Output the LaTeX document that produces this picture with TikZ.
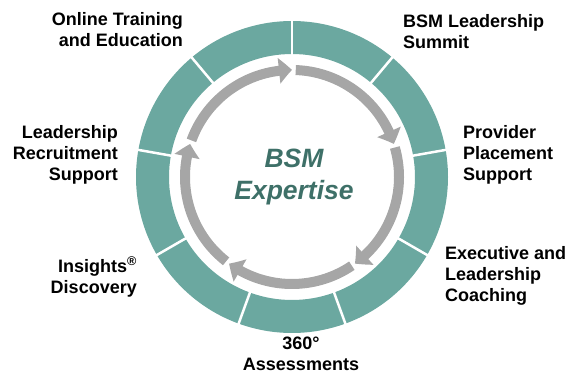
\documentclass[tikz,border=0pt]{standalone}
\usepackage{fontspec}
\setmainfont{Liberation Sans}
\usetikzlibrary{arrows.meta,bending}

\definecolor{ringteal}{RGB}{107,168,160}
\definecolor{flowgray}{RGB}{166,166,166}
\definecolor{coreteal}{RGB}{62,112,104}

\begin{document}
\begin{tikzpicture}[
    x=1pt, y=1pt,
    seg/.style={fill=ringteal},
    gap/.style={draw=white, line width=2.5pt},
    flow/.style={
        draw=flowgray, line width=10pt,
        -{Triangle[width=25pt,length=13pt,bend]}
    },
    lbl/.style={
        font=\bfseries\fontsize{18}{21}\selectfont,
        inner sep=0pt
    },
    core/.style={
        font=\bfseries\itshape\fontsize{26.5}{32}\selectfont,
        text=coreteal, align=center, inner sep=0pt
    }
]
\useasboundingbox (0,0) rectangle (571,375);

% --- Ring (nine segments) and cycle arrows ---
\begin{scope}[shift={(292,198)}]
    \foreach \k in {0,...,8} {
        \pgfmathsetmacro\sa{90-40*\k}
        \pgfmathsetmacro\ea{50-40*\k}
        \fill[seg] (\sa:156) arc[start angle=\sa, end angle=\ea, radius=156]
            -- (\ea:123) arc[start angle=\ea, end angle=\sa, radius=123] -- cycle;
    }
    \foreach \k in {0,...,8} {
        \draw[gap] ({90-40*\k}:120) -- ({90-40*\k}:159);
    }
    \foreach \b in {90,18,-54,-126,-198} {
        \draw[flow] ({\b+70}:107) arc[start angle=\b+70, end angle=\b, radius=107];
    }
\end{scope}

% --- Centre ---
\node[core] (expertise) at (294,198) {BSM\\Expertise};

% --- Labels round the ring ---
\node[lbl, anchor=east, align=right] (online) at (183,345) {Online Training\\and Education};
\node[lbl, anchor=west, align=left] (summit) at (403,343) {BSM Leadership\\Summit};
\node[lbl, anchor=west, align=left] (provider) at (463,220) {Provider\\Placement\\Support};
\node[lbl, anchor=west, align=left] (coaching) at (445,99) {Executive and\\Leadership\\Coaching};
\node[lbl, align=center] (assess) at (301,21) {360°\\Assessments};
\node[lbl, anchor=east, align=right] (insights) at (137,98) {Insights\textsuperscript{®}\\Discovery};
\node[lbl, anchor=east, align=right] (recruit) at (118,220) {Leadership\\Recruitment\\Support};

\end{tikzpicture}
\end{document}
